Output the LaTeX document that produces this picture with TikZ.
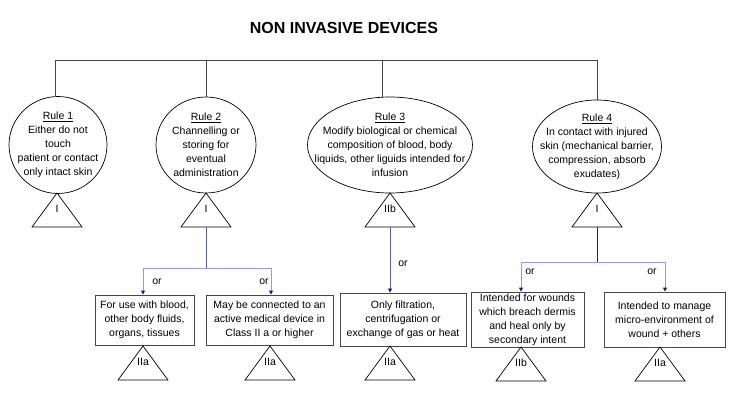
\documentclass[tikz,border=0pt]{standalone}
\usepackage{fontspec}
\setmainfont{Liberation Sans}
\usepackage{xcolor}
\usetikzlibrary{arrows.meta,shapes.geometric}
\definecolor{treegray}{RGB}{70,70,70}
\definecolor{bluemid}{RGB}{80,90,200}
\definecolor{bluelight}{RGB}{140,160,225}
\definecolor{navyline}{RGB}{30,30,130}
\definecolor{navytip}{RGB}{20,20,140}
\newcommand{\txt}{\fontsize{10.5}{14}\selectfont}
% class triangle: name, x, apex y, class label
\newcommand{\classmark}[4]{%
  \coordinate (#1) at (#2,#3);
  \draw[tri] (#1) -- ++(-25,34) -- ++(50,0) -- cycle;
  \node[inner sep=0pt, font=\txt] (#1-l) at ([yshift=-16pt]#1) {#4};
  \coordinate (#1-b) at ([yshift=-34pt]#1);}

\begin{document}
\begin{tikzpicture}[x=1pt, y=-1pt,
    every node/.style={font=\txt},
    tree/.style={draw=treegray, line width=0.8pt},
    rule/.style={draw, ellipse, line width=0.7pt, inner sep=0pt},
    tri/.style={draw, line width=0.7pt},
    crit/.style={draw=treegray, line width=0.9pt, inner sep=0pt, align=center},
    tipped/.style={-{Triangle[length=4pt, width=4pt, color=navytip]}},
    ortext/.style={inner sep=0pt}]
  \useasboundingbox (0,0) rectangle (750,408);
  \node[font=\fontsize{16}{19}\selectfont\bfseries] (title) at (344,28) {NON INVASIVE DEVICES};

  % rules
  \node[rule, minimum width=98pt, minimum height=97pt] (r1) at (58,145) {};
  \node[rule, minimum width=100pt, minimum height=96pt] (r2) at (206,145) {};
  \node[rule, minimum width=165pt, minimum height=96pt] (r3) at (390,145) {};
  \node[rule, minimum width=129pt, minimum height=93pt] (r4) at (597,146.5) {};
  \node[align=center, inner sep=0pt] (r1-t) at (r1) {\underline{Rule 1}\\Either do not\\touch\\patient or contact\\only intact skin};
  \node[align=center, inner sep=0pt] (r2-t) at (r2) {\underline{Rule 2}\\Channelling or\\storing for\\eventual\\administration};
  \node[align=center, inner sep=0pt] (r3-t) at (r3) {\underline{Rule 3}\\Modify biological or chemical\\composition of blood, body\\liquids, other liguids intended for\\infusion};
  \node[align=center, inner sep=0pt] (r4-t) at (r4) {\underline{Rule 4}\\In contact with injured\\skin (mechanical barrier,\\compression, absorb\\exudates)};

  \coordinate (bus) at (0,60);
  \draw[tree] ([xshift=-3pt]r1.north) -- ([xshift=-3pt]r1.north |- bus) -- (r4.north |- bus) -- (r4.north);
  \draw[tree] (r2.north) -- (r2.north |- bus);
  \draw[tree] ([xshift=-8pt]r3.north) -- ([xshift=-8pt]r3.north |- bus);

  \classmark{t1}{57}{193}{I}
  \classmark{t2}{206}{193}{I}
  \classmark{t3}{390}{193}{IIb}
  \classmark{t4}{597}{193}{I}

  % criteria
  \node[crit, minimum width=99pt, minimum height=50pt] (boxA) at (144.5,320) {For use with blood,\\other body fluids,\\organs, tissues};
  \node[crit, minimum width=127pt, minimum height=50pt] (boxB) at (269.5,320) {May be connected to an\\active medical device in\\Class II a or higher};
  \node[crit, minimum width=126pt, minimum height=53pt] (boxC) at (403,319.5) {Only filtration,\\centrifugation or\\exchange of gas or heat};
  \node[crit, minimum width=113pt, minimum height=55pt] (boxD) at (527.5,319.5) {Intended for wounds\\which breach dermis\\and heal only by\\secondary intent};
  \node[crit, minimum width=121pt, minimum height=55pt] (boxE) at (664.5,319.5) {Intended to manage\\micro-environment of\\wound + others};

  \coordinate (s2) at (206,268);
  \draw[bluemid, line width=0.8pt] (t2-b) -- (s2);
  \draw[bluelight, line width=0.9pt, tipped] (s2) -| ([xshift=-1.5pt]boxA.north);
  \draw[bluelight, line width=0.9pt, tipped] (s2) -| ([xshift=1.5pt]boxB.north);
  \draw[bluemid, line width=0.8pt, tipped] (t3-b) -- (t3-b |- boxC.north);
  \coordinate (s4) at (597,262);
  \draw[navyline, line width=1pt] (t4-b) -- (s4);
  \draw[bluelight, line width=0.9pt, tipped] (s4) -| ([xshift=-6.5pt]boxD.north);
  \draw[bluelight, line width=0.9pt, tipped] (s4) -| ([xshift=0.5pt]boxE.north);

  \node[ortext] (or1) at (157,282) {or};
  \node[ortext] (or2) at (264,282) {or};
  \node[ortext] (or3) at (403,264) {or};
  \node[ortext] (or4) at (530,272) {or};
  \node[ortext] (or5) at (652,272) {or};

  \classmark{tA}{143}{346}{IIa}
  \classmark{tB}{270}{346}{IIa}
  \classmark{tC}{390}{346}{IIa}
  \classmark{tD}{521}{347}{IIb}
  \classmark{tE}{660}{347}{IIa}
\end{tikzpicture}
\end{document}
